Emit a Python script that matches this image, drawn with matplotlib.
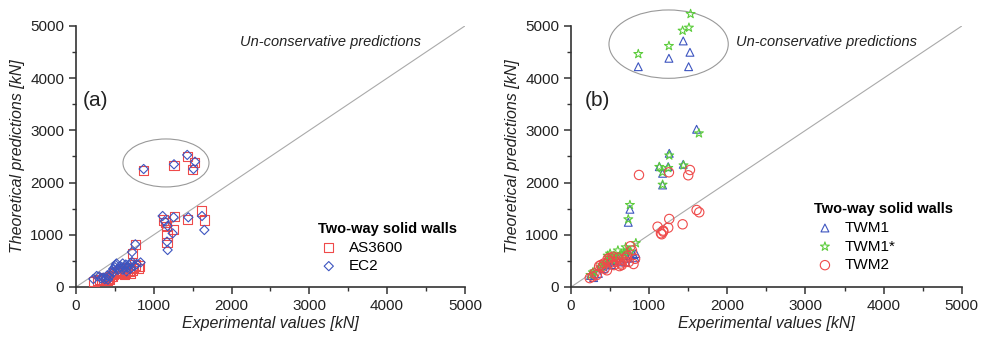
import numpy as np
import matplotlib
matplotlib.use('Agg')
import matplotlib.pyplot as plt
from matplotlib.patches import Ellipse

plt.rcParams['font.family'] = ['Liberation Sans', 'DejaVu Sans']

# (a) two-way solid walls, experimental vs predicted [kN]
as3600_x = [870, 1260, 1430, 1520, 1500,
            1122, 1148, 1165, 1264, 1251, 1435, 1615, 1650, 1170, 1170, 763, 728,
            230, 280, 300, 350, 380, 400, 420, 450, 480, 500, 520, 560, 600, 620, 640, 660,
            680, 700, 720, 740, 760, 800, 820, 580, 540, 470, 430, 330, 360, 650, 700, 620]
as3600_y = [2230, 2330, 2500, 2380, 2250,
            1284, 1233, 1156, 1347, 1105, 1296, 1456, 1284, 850, 996, 817, 645,
            110, 120, 150, 140, 160, 130, 170, 200, 250, 280, 300, 320, 260, 300, 280, 320,
            300, 350, 310, 380, 420, 350, 400, 350, 260, 210, 140, 130, 180, 380, 260, 250]

ec2_x = [870, 1260, 1430, 1530, 1510,
         1114, 1140, 1178, 1255, 1243, 1444, 1620, 1650, 1170, 1178, 763, 720,
         223, 266, 321, 350, 370, 390, 410, 430, 460, 480, 500, 510, 540, 570, 600, 620,
         640, 660, 680, 700, 720, 750, 780, 830, 600, 650, 700, 480, 520, 560, 300, 400]
ec2_y = [2260, 2350, 2530, 2400, 2260,
         1360, 1260, 1170, 1335, 1028, 1335, 1360, 1092, 868, 709, 817, 670,
         153, 211, 166, 180, 150, 170, 140, 200, 300, 350, 380, 420, 330, 400, 450, 380,
         430, 370, 420, 460, 480, 400, 440, 470, 330, 300, 350, 280, 450, 380, 200, 220]

# (b)
twm1_x = [861, 1253, 1436, 1522, 1505,
          1607, 1257, 1130, 1244, 1436, 1172, 1172, 733, 754,
          250, 290, 350, 420, 460, 500, 550, 600, 640, 680, 720, 760, 800, 820,
          700, 600, 520, 470, 380, 300, 830]
twm1_y = [4220, 4381, 4713, 4496, 4220,
          3021, 2561, 2305, 2305, 2350, 2178, 1954, 1239, 1489,
          220, 180, 260, 350, 420, 480, 520, 560, 480, 600, 550, 600, 620, 560,
          480, 500, 430, 460, 400, 250, 640]

twm1s_x = [861, 1253, 1428, 1509, 1530,
           1637, 1257, 1130, 1244, 1440, 1172, 1172, 733, 754,
           250, 300, 380, 430, 480, 500, 550, 600, 650, 700, 720, 760, 830,
           560, 620, 680, 470, 520, 400, 280]
twm1s_y = [4463, 4617, 4910, 4968, 5230,
           2944, 2520, 2300, 2280, 2330, 2200, 1960, 1297, 1571,
           230, 300, 380, 450, 560, 640, 600, 700, 620, 760, 700, 680, 840,
           540, 580, 650, 600, 520, 420, 280]

twm2_x = [870, 1253, 1522, 1500, 1607, 1641, 1257, 1428, 1108, 1244, 1151, 1180, 1160, 1180,
          240, 280, 330, 360, 380, 400, 430, 460, 480, 500, 520, 550, 580, 620, 640, 660,
          700, 720, 740, 760, 780, 800, 820, 600, 650, 690, 540, 470, 420, 300]
twm2_y = [2146, 2197, 2241, 2140, 1475, 1431, 1303, 1201, 1155, 1136, 1028, 1060, 1010, 1080,
          170, 200, 230, 400, 420, 380, 350, 320, 500, 560, 470, 420, 480, 400, 450, 520,
          560, 600, 480, 780, 700, 440, 540, 560, 420, 480, 580, 540, 450, 260]

red = '#ef4a4a'
blue = '#3d55c0'
green = '#5ccc3c'
txt = '#222222'

fig = plt.figure(figsize=(9.87, 3.39), dpi=100)
ax1 = fig.add_axes([0.077, 0.1534, 0.394, 0.770])
ax2 = fig.add_axes([0.5785, 0.1534, 0.396, 0.770])


def style_axes(ax):
    ax.set_xlim(0, 5000)
    ax.set_ylim(0, 5000)
    ax.set_xticks(np.arange(0, 5001, 1000))
    ax.set_yticks(np.arange(0, 5001, 1000))
    ax.set_xticks(np.arange(500, 5000, 1000), minor=True)
    ax.set_yticks(np.arange(500, 5000, 1000), minor=True)
    for s in ['top', 'right']:
        ax.spines[s].set_visible(False)
    for s in ['left', 'bottom']:
        ax.spines[s].set_color('#333333')
        ax.spines[s].set_linewidth(1.2)
    ax.tick_params(which='major', direction='out', length=5, width=1.1,
                   colors='#333333', labelsize=11, labelcolor=txt)
    ax.tick_params(which='minor', direction='out', length=3, width=1.0, colors='#333333')
    ax.plot([0, 5000], [0, 5000], color='#aaaaaa', lw=0.8, zorder=1)
    ax.set_xlabel('Experimental values [kN]', style='italic', fontsize=11.5, color=txt, labelpad=2)
    ax.set_ylabel('Theoretical predictions [kN]', style='italic', fontsize=11.5, color=txt, labelpad=4)
    ax.text(2108, 4693, 'Un-conservative predictions', style='italic', fontsize=10.5,
            color=txt, va='center')


def add_legend(ax, x, y):
    leg = ax.legend(loc='upper left', bbox_to_anchor=(x, y), frameon=False,
                    title='Two-way solid walls', fontsize=11, alignment='left',
                    handlelength=1.4, handletextpad=0.6, borderpad=0.2,
                    labelspacing=0.3)
    leg.get_title().set_fontweight('bold')
    leg.get_title().set_fontsize(10.5)
    return leg


style_axes(ax1)
style_axes(ax2)

mk = dict(facecolors='none', linewidths=0.8, zorder=3, clip_on=False)
ax1.scatter(as3600_x, as3600_y, marker='s', s=45, edgecolors=red, label='AS3600', **mk)
ax1.scatter(ec2_x, ec2_y, marker='D', s=22, edgecolors=blue, label='EC2', **mk)
ax1.add_patch(Ellipse((1157, 2376), 1106, 919, fill=False, ec='#999999', lw=0.8))
ax1.text(90, 3580, '(a)', fontsize=15, color=txt, va='center')
add_legend(ax1, 0.595, 0.29)

ax2.scatter(twm1_x, twm1_y, marker='^', s=32, edgecolors=blue, label='TWM1', **mk)
ax2.scatter(twm1s_x, twm1s_y, marker='*', s=45, edgecolors=green, label='TWM1*', **mk)
ax2.scatter(twm2_x, twm2_y, marker='o', s=45, edgecolors=red, label='TWM2', **mk)
ax2.add_patch(Ellipse((1249, 4652), 1526, 1309, fill=False, ec='#999999', lw=0.8,
                      clip_on=False))
ax2.text(180, 3580, '(b)', fontsize=15, color=txt, va='center')
add_legend(ax2, 0.595, 0.365)

fig.savefig('out.png', dpi=100)
